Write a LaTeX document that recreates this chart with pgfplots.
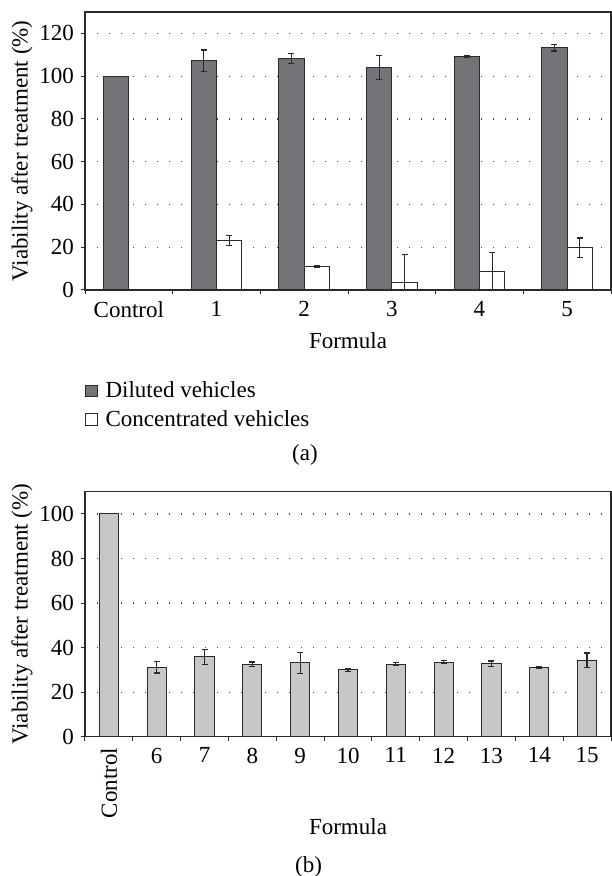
\documentclass[border=0pt]{standalone}
\usepackage{fontspec}
\setmainfont{Liberation Serif}
\usepackage{pgfplots}
\pgfplotsset{compat=1.18}
\definecolor{darkbar}{HTML}{737478}
\definecolor{lightbar}{HTML}{C6C7C9}
\definecolor{edge}{HTML}{2A2A2A}
\pgfplotsset{
  common/.style={
    scale only axis,
    width=263pt,
    ymin=0,
    axis line style={line width=0.6pt, edge},
    tick align=outside,
    tick pos=left,
    major tick length=2pt,
    minor tick length=2pt,
    tick style={line width=0.5pt, edge},
    major x tick style={draw=none},
    ymajorgrids,
    grid style={dash pattern=on 0.6pt off 5.4pt, line width=0.6pt, black!70},
    /pgf/number format/assume math mode=true,
    tick label style={font=\fontsize{11.5}{13.5}\selectfont},
    label style={font=\fontsize{11.5}{13.5}\selectfont},
    ylabel={Viability after treatment (\%)},
    xlabel={Formula},
    ybar=0pt,
    error bars/error bar style={line width=0.6pt, edge},
    error bars/error mark options={rotate=90, mark size=1.5pt, line width=0.6pt, edge},
  },
}
\begin{document}
\begin{tikzpicture}
\useasboundingbox (-42.5pt,-293pt) rectangle (263pt,145pt);
% ---------- (a) ----------
\begin{axis}[common,
  at={(0,0)}, anchor=south west,
  height=139pt,
  ymax=130, ytick={0,20,...,120},
  xmin=-0.5, xmax=5.5,
  xtick={0,...,5},
  xticklabels={Control,1,2,3,4,5},
  minor xtick={-0.5,0.5,...,5.5},
  bar width=0.29,
  ylabel style={at={(axis description cs:-0.1198,0.5)}, anchor=center},
  xlabel style={at={(axis description cs:0.5,-0.1824)}, anchor=center},
  legend style={at={(axis description cs:0,-0.312)}, anchor=north west, draw=none, fill=none,
    font=\fontsize{11.5}{13.5}\selectfont, row sep=1pt, inner xsep=0pt, inner ysep=0pt,
    nodes={inner xsep=4pt}},
  legend cell align=left,
  legend image code/.code={\draw[#1] (0pt,-2.8pt) rectangle (5.6pt,2.8pt);},
]
\addplot[fill=darkbar, draw=edge, line width=0.5pt, bar shift=-0.145, forget plot]
  coordinates {(0,100)};
\addplot[fill=darkbar, draw=edge, line width=0.5pt, bar shift=-0.145,
  error bars/.cd, y dir=both, y explicit]
  coordinates {
  (1,107.2) +- (0,5.0)
  (2,108.3) +- (0,2.2)
  (3,103.9) +- (0,5.6)
  (4,109.1) +- (0,0.3)
  (5,113.3) +- (0,1.5)
  };
\addplot[fill=white, draw=edge, line width=0.5pt, bar shift=0.145,
  error bars/.cd, y dir=both, y explicit]
  coordinates {
  (1,23.0) +- (0,2.3)
  (2,11.1) +- (0,0.4)
  (3,3.3) +- (0,13.4)
  (4,8.75) +- (0,8.9)
  (5,19.8) +- (0,4.5)
  };
\legend{Diluted vehicles, Concentrated vehicles}
\end{axis}
\node[font=\fontsize{11.5}{13.5}\selectfont] at (110pt,-82.5pt) {(a)};
% ---------- (b) ----------
\begin{axis}[common,
  at={(0,-223.35pt)}, anchor=south west,
  height=122.5pt,
  ymax=110, ytick={0,20,...,100},
  xmin=-0.5, xmax=10.5,
  xtick={0,...,10},
  xticklabels={\rotatebox{90}{Control},6,7,8,9,10,11,12,13,14,15},
  minor xtick={-0.5,0.5,...,10.5},
  bar width=0.4,
  ylabel style={at={(axis description cs:-0.1198,0.5)}, anchor=center},
  xlabel style={at={(axis description cs:0.5,-0.3673)}, anchor=center},
]
\addplot[fill=lightbar, draw=edge, line width=0.5pt, bar shift=0pt]
  coordinates {(0,100)};
\addplot[fill=lightbar, draw=edge, line width=0.5pt, bar shift=0pt,
  error bars/.cd, y dir=both, y explicit]
  coordinates {
  (1,31.2) +- (0,2.6)
  (2,35.8) +- (0,3.3)
  (3,32.5) +- (0,1.0)
  (4,33.1) +- (0,4.8)
  (5,30.0) +- (0,0.6)
  (6,32.5) +- (0,0.7)
  (7,33.5) +- (0,0.7)
  (8,32.8) +- (0,1.2)
  (9,31.2) +- (0,0.5)
  (10,34.4) +- (0,3.2)
  };
\end{axis}
\node[font=\fontsize{11.5}{13.5}\selectfont] at (111.8pt,-288.35pt) {(b)};
\end{tikzpicture}
\end{document}
